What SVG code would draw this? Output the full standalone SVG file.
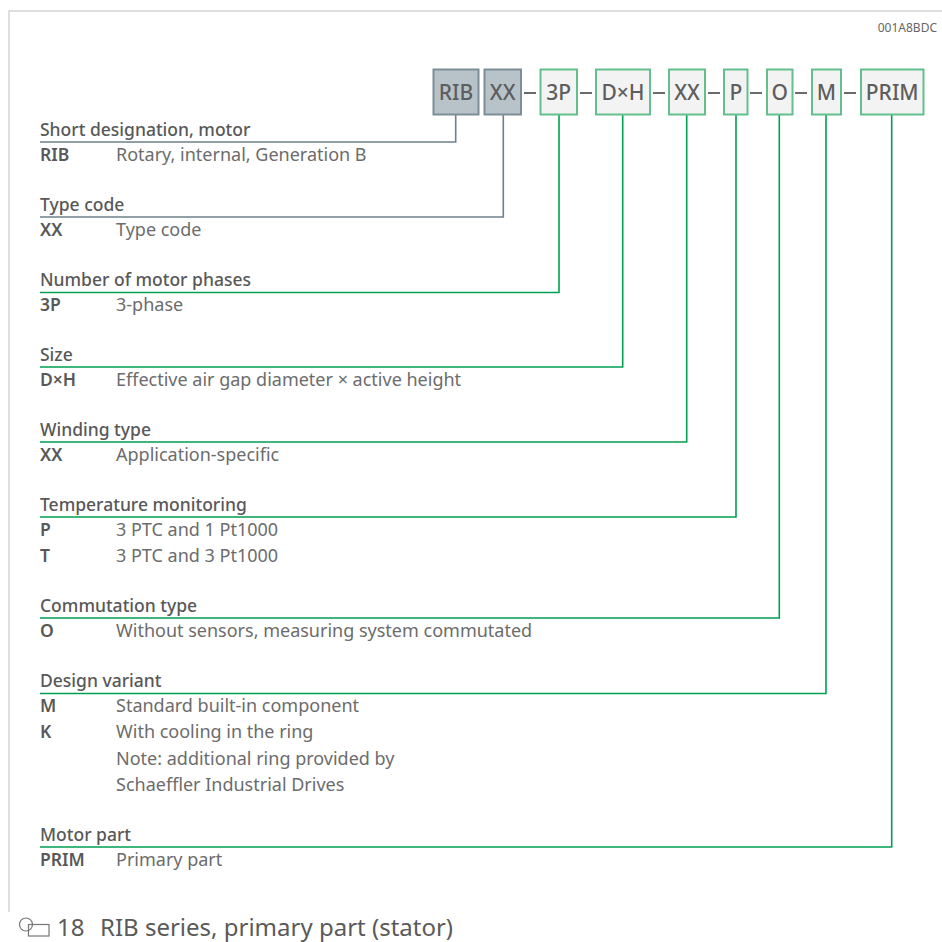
<svg xmlns="http://www.w3.org/2000/svg" width="942" height="942" viewBox="0 0 942 942">
<style>
.bg{fill:#ffffff}
.frame{stroke:#d4d4d4;stroke-width:1.5;fill:none}
.bx{font-family:"Noto Sans","Open Sans",sans-serif;font-size:21px;font-weight:500;fill:#5e5e5e;text-anchor:middle}
.gb{fill:#b8c3c9;stroke:#7d8e98;stroke-width:2}
.grb{fill:#f3f3f3;stroke:#63c08e;stroke-width:2}
.dash{stroke:#6a6a6a;stroke-width:2}
.cg{stroke:#6d808b;stroke-width:1.6;fill:none}
.cn{stroke:#00a052;stroke-width:1.6;fill:none}
.h{font-family:"Noto Sans","Open Sans",sans-serif;font-size:17.5px;font-weight:500;fill:#585858}
.c{font-family:"Noto Sans","Open Sans",sans-serif;font-size:17.5px;font-weight:600;fill:#585858}
.d{font-family:"Noto Sans","Open Sans",sans-serif;font-size:18px;fill:#6c6c6c}
.id{font-family:"Noto Sans","Open Sans",sans-serif;font-size:12px;fill:#666;text-anchor:end}
.cap{font-family:"Noto Sans","Open Sans",sans-serif;font-size:24px;fill:#5a5a5a}
</style>
<rect class="bg" x="0" y="0" width="942" height="942"/>
<path class="frame" d="M942,11 H9 V912"/>
<text class="id" x="937" y="32">001A8BDC</text>

<g id="connectors">
<path class="cg" d="M455.7,114 V142 H40"/>
<path class="cg" d="M503.3,114 V217 H40"/>
<path class="cn" d="M559,114 V292.5 H40"/>
<path class="cn" d="M622.7,114 V367 H40"/>
<path class="cn" d="M686.7,114 V442 H40"/>
<path class="cn" d="M736,114 V517 H40"/>
<path class="cn" d="M779.3,114 V618 H40"/>
<path class="cn" d="M826,114 V693.5 H40"/>
<path class="cn" d="M891.7,114 V847 H40"/>
</g>

<g id="dashes">
<line class="dash" x1="524" y1="93" x2="536" y2="93"/>
<line class="dash" x1="580" y1="93" x2="592" y2="93"/>
<line class="dash" x1="653" y1="93" x2="665" y2="93"/>
<line class="dash" x1="708" y1="93" x2="720" y2="93"/>
<line class="dash" x1="750" y1="93" x2="762" y2="93"/>
<line class="dash" x1="795" y1="93" x2="807" y2="93"/>
<line class="dash" x1="844" y1="93" x2="856" y2="93"/>
</g>

<g id="box-rib"><rect class="gb" x="433.5" y="69.5" width="45" height="45"/><text class="bx" x="456" y="100">RIB</text></g>
<g id="box-xx1"><rect class="gb" x="484.5" y="69.5" width="36.5" height="45"/><text class="bx" x="502.7" y="100">XX</text></g>
<g id="box-3p"><rect class="grb" x="540.5" y="69.5" width="36.5" height="45"/><text class="bx" x="558.7" y="100">3P</text></g>
<g id="box-dxh"><rect class="grb" x="596" y="69.5" width="54" height="45"/><text class="bx" x="623" y="100">D×H</text></g>
<g id="box-xx2"><rect class="grb" x="669" y="69.5" width="36" height="45"/><text class="bx" x="687" y="100">XX</text></g>
<g id="box-p"><rect class="grb" x="724" y="69.5" width="23.5" height="45"/><text class="bx" x="735.8" y="100">P</text></g>
<g id="box-o"><rect class="grb" x="767" y="69.5" width="25.5" height="45"/><text class="bx" x="779.7" y="100">O</text></g>
<g id="box-m"><rect class="grb" x="812" y="69.5" width="29" height="45"/><text class="bx" x="826.5" y="100">M</text></g>
<g id="box-prim"><rect class="grb" x="861" y="69.5" width="62.5" height="45"/><text class="bx" x="892.2" y="100">PRIM</text></g>

<g id="sec-short">
<text class="h" x="40" y="136">Short designation, motor</text>
<text class="c" x="40" y="161">RIB</text><text class="d" x="116" y="161">Rotary, internal, Generation B</text>
</g>
<g id="sec-type">
<text class="h" x="40" y="211">Type code</text>
<text class="c" x="40" y="236">XX</text><text class="d" x="116" y="236">Type code</text>
</g>
<g id="sec-phases">
<text class="h" x="40" y="286">Number of motor phases</text>
<text class="c" x="40" y="311">3P</text><text class="d" x="116" y="311">3-phase</text>
</g>
<g id="sec-size">
<text class="h" x="40" y="361">Size</text>
<text class="c" x="40" y="386">D×H</text><text class="d" x="116" y="386">Effective air gap diameter × active height</text>
</g>
<g id="sec-winding">
<text class="h" x="40" y="436">Winding type</text>
<text class="c" x="40" y="461">XX</text><text class="d" x="116" y="461">Application-specific</text>
</g>
<g id="sec-temp">
<text class="h" x="40" y="511">Temperature monitoring</text>
<text class="c" x="40" y="536">P</text><text class="d" x="116" y="536">3 PTC and 1 Pt1000</text>
<text class="c" x="40" y="562">T</text><text class="d" x="116" y="562">3 PTC and 3 Pt1000</text>
</g>
<g id="sec-comm">
<text class="h" x="40" y="612">Commutation type</text>
<text class="c" x="40" y="637">O</text><text class="d" x="116" y="637">Without sensors, measuring system commutated</text>
</g>
<g id="sec-design">
<text class="h" x="40" y="687">Design variant</text>
<text class="c" x="40" y="712">M</text><text class="d" x="116" y="712">Standard built-in component</text>
<text class="c" x="40" y="738">K</text><text class="d" x="116" y="738">With cooling in the ring</text>
<text class="d" x="116" y="765">Note: additional ring provided by</text>
<text class="d" x="116" y="791">Schaeffler Industrial Drives</text>
</g>
<g id="sec-part">
<text class="h" x="40" y="841">Motor part</text>
<text class="c" x="40" y="866">PRIM</text><text class="d" x="116" y="866">Primary part</text>
</g>

<g id="caption">
<circle cx="26" cy="924.5" r="6.5" fill="none" stroke="#777" stroke-width="1.2"/>
<rect x="28.5" y="924.5" width="20.5" height="11.5" fill="none" stroke="#777" stroke-width="1.2"/>
<text class="cap" y="936"><tspan x="57">18</tspan><tspan x="100">RIB series, primary part (stator)</tspan></text>
</g>
</svg>
